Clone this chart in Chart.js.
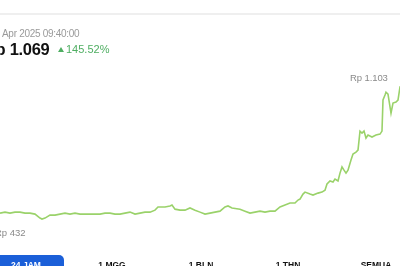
<!DOCTYPE html>
<html>
<head>
<meta charset="utf-8">
<script src="https://cdn.jsdelivr.net/npm/chart.js@4"></script>
<style>
  html, body { margin: 0; padding: 0; background: #fff; }
  body { width: 400px; height: 266px; overflow: hidden; position: relative; font-family: "Liberation Sans", Arial, sans-serif; }
  #chartWrap { position: absolute; left: 0; top: 0; width: 420px; height: 266px; }
  .sep { position: absolute; left: 0; top: 13px; width: 400px; height: 2px; background: #efefef; }
  .txt { position: absolute; white-space: nowrap; }
  #date { left: 2px; top: 28px; font-size: 10px; color: #9a9a9a; letter-spacing: -0.3px; }
  #price { left: -16px; top: 40px; font-size: 16.5px; font-weight: 700; color: #111; letter-spacing: -0.3px; }
  #tri { position: absolute; left: 58px; top: 47px; width: 0; height: 0;
         border-left: 3px solid transparent; border-right: 3px solid transparent; border-bottom: 5px solid #4fae62; }
  #change { left: 66px; top: 43px; font-size: 11px; color: #4fae62; }
  #maxLabel { left: 350px; top: 72px; font-size: 9.5px; color: #8a8a8a; letter-spacing: -0.1px; }
  #minLabel { left: -5px; top: 227px; font-size: 9.5px; color: #8a8a8a; }
  .tab { position: absolute; top: 260px; font-size: 8.5px; font-weight: 700; color: #111; text-align: center; width: 60px; }
  #tabActive { position: absolute; left: -12px; top: 255px; width: 76px; height: 30px; background: #1b5fd8; border-radius: 5px; }
</style>
</head>
<body>
<div id="chartWrap"><canvas id="priceChart" width="420" height="266"></canvas></div>
<div class="sep"></div>
<div class="txt" id="date">Apr 2025 09:40:00</div>
<div class="txt" id="price">Rp 1.069</div>
<div id="tri"></div>
<div class="txt" id="change">145.52%</div>
<div class="txt" id="maxLabel">Rp 1.103</div>
<div class="txt" id="minLabel">Rp 432</div>
<div id="tabActive"></div>
<div class="tab" style="left:-4px;color:#fff">24 JAM</div>
<div class="tab" style="left:82px">1 MGG</div>
<div class="tab" style="left:171px">1 BLN</div>
<div class="tab" style="left:258px">1 THN</div>
<div class="tab" style="left:346px">SEMUA</div>
<script>
// time steps (left to right) and price in Rp
const timeSteps = [0, 5, 10, 15, 20, 25, 30, 35, 40, 42, 45, 50, 55, 60, 65, 70, 75, 80, 85, 90,
    95, 100, 105, 110, 115, 120, 125, 130, 135, 140, 145, 150, 155, 158, 165, 170, 172, 175, 180, 185,
    190, 195, 200, 205, 210, 215, 220, 225, 228, 232, 240, 245, 250, 255, 260, 265, 270, 275, 280, 285,
    290, 295, 298, 300, 303, 305, 310, 313, 318, 322, 325, 327, 330, 333, 335, 338, 340, 342, 344, 346,
    348, 351, 353, 356, 358, 360, 362, 364, 366, 368, 372, 376, 380, 382, 383, 385, 386, 388, 391, 393,
    396, 398, 400, 403, 406, 410];
const prices = [462, 467, 462, 467, 467, 462, 462, 457, 437, 432, 437, 452, 452, 457, 462, 457, 462, 457, 457, 457,
    457, 457, 462, 462, 457, 457, 462, 467, 457, 462, 467, 467, 477, 493, 493, 498, 503, 482, 477, 477,
    488, 477, 467, 457, 462, 467, 472, 493, 498, 488, 482, 472, 462, 467, 472, 467, 472, 472, 493, 503,
    513, 513, 528, 533, 558, 568, 558, 553, 563, 568, 578, 609, 624, 619, 634, 624, 664, 695, 679, 664,
    679, 730, 760, 770, 780, 876, 866, 876, 841, 856, 846, 856, 861, 876, 1033, 1058, 1073, 1063, 967, 1018,
    1023, 1033, 1099, 1103, 1085, 1069];

const lineData = timeSteps.map((t, i) => ({ x: t, y: prices[i] }));

new Chart(document.getElementById('priceChart'), {
    type: 'line',
    data: {
        datasets: [{
            data: lineData,
            borderColor: '#9ad26a',
            borderWidth: 1.6,
            pointRadius: 0,
            tension: 0,
            fill: false
        }]
    },
    options: {
        responsive: false,
        animation: false,
        layout: { padding: 0 },
        plugins: { legend: { display: false }, tooltip: { enabled: false } },
        scales: {
            x: { type: 'linear', min: 0, max: 420, display: false },
            y: { min: 195, max: 1538, display: false }
        }
    }
});
</script>
</body>
</html>
